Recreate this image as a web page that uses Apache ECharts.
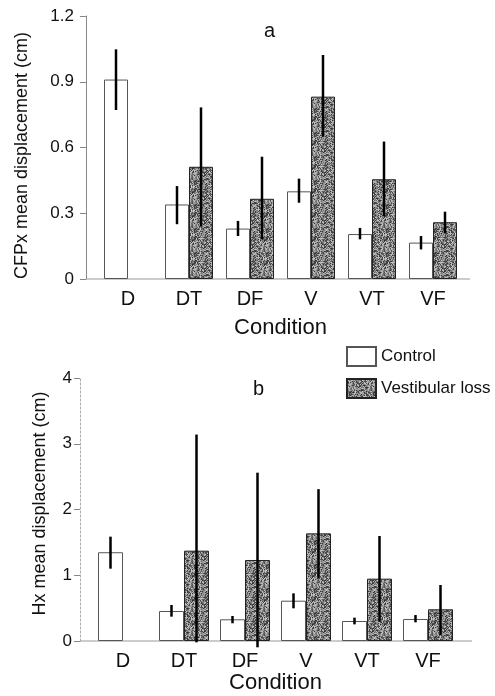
<!DOCTYPE html>
<html>
<head>
<meta charset="utf-8">
<script src="https://cdn.jsdelivr.net/npm/echarts@6/dist/echarts.min.js"></script>
<style>html,body{margin:0;padding:0;background:#fff}#c{width:495px;height:696px}</style>
</head>
<body>
<div id="c"></div>
<script>
// ---- data ----
const categories = ['D', 'DT', 'DF', 'V', 'VT', 'VF'];
const seriesNames = ['Control', 'Vestibular loss'];

// panel a: CFPx mean displacement (cm)
const aTicks = [0, 0.3, 0.6, 0.9, 1.2];
const aControl   = [0.91, 0.34, 0.23, 0.40, 0.205, 0.166];
const aControlHi = [1.048, 0.424, 0.265, 0.458, 0.233, 0.196];
const aControlLo = [0.771, 0.25, 0.196, 0.348, 0.181, 0.135];
const aVest      = [null, 0.512, 0.366, 0.832, 0.455, 0.259];
const aVestHi    = [null, 0.783, 0.558, 1.022, 0.627, 0.307];
const aVestLo    = [null, 0.239, 0.181, 0.649, 0.287, 0.208];

// panel b: Hx mean displacement (cm)
const bTicks = [0, 1, 2, 3, 4];
const bControl   = [1.35, 0.456, 0.33, 0.613, 0.304, 0.335];
const bControlHi = [1.587, 0.548, 0.38, 0.725, 0.355, 0.395];
const bControlLo = [1.10, 0.37, 0.27, 0.497, 0.253, 0.284];
const bVest      = [null, 1.374, 1.232, 1.637, 0.948, 0.482];
const bVestHi    = [null, 3.14, 2.56, 2.31, 1.597, 0.852];
const bVestLo    = [null, -0.02, -0.096, 0.953, 0.294, 0.091];

// ---- style helpers ----
const FONT = '"Liberation Sans", Arial, Helvetica, sans-serif';
function makeTexture() {
  const n = 24;
  const cv = document.createElement('canvas');
  cv.width = n; cv.height = n;
  const ctx = cv.getContext('2d');
  for (let y = 0; y < n; y++) {
    for (let x = 0; x < n; x++) {
      let h = (x * 374761393 + y * 668265263) >>> 0;
      h = ((h ^ (h >>> 13)) * 1274126177) >>> 0;
      h = (h ^ (h >>> 16)) >>> 0;
      const g = 45 + (h % 160);
      ctx.fillStyle = 'rgb(' + g + ',' + g + ',' + g + ')';
      ctx.fillRect(x, y, 1, 1);
    }
  }
  return cv;
}
const texture = { image: makeTexture(), repeat: 'repeat' };

function errData(hi, lo) {
  const out = [];
  hi.forEach((v, i) => { if (v != null) out.push([i, hi[i], lo[i]]); });
  return out;
}
function errRender(sign, barW) {
  return function (params, api) {
    const x = api.coord([api.value(0), 0])[0] + sign * barW / 2;
    const y1 = api.coord([api.value(0), api.value(1)])[1];
    const y2 = api.coord([api.value(0), api.value(2)])[1];
    return { type: 'line', shape: { x1: x, y1: y1, x2: x, y2: y2 },
             style: { stroke: '#000', lineWidth: 2.5 } };
  };
}

const grids = [
  { left: 97.5, right: 31.5, top: 16, bottom: 417 },
  { left: 92.5, right: 36.5, top: 378, bottom: 55 }
];
const axisX = [86, 80];      // y-axis line positions
const axisEnd = [470, 472];  // x-axis line right ends

function xAxisFor(i, gap) {
  return {
    type: 'category', gridIndex: i, data: categories,
    axisLine: { show: false }, axisTick: { show: false },
    axisLabel: { color: '#111', fontSize: 20, fontFamily: FONT, margin: 10 },
    name: 'Condition', nameLocation: 'middle', nameGap: gap,
    nameTextStyle: { color: '#111', fontSize: 22, fontFamily: FONT }
  };
}
function yAxisFor(i, ticks, name, gap, dashed, labelMargin, namePad) {
  const interval = ticks[1] - ticks[0];
  return {
    type: 'value', gridIndex: i, min: ticks[0], max: ticks[ticks.length - 1], interval: interval,
    offset: grids[i].left - axisX[i],
    axisLine: { show: true, lineStyle: { color: dashed ? '#aaa' : '#888', width: 1, type: dashed ? [2, 2] : 'solid' } },
    axisTick: { show: true, length: 6, lineStyle: { color: '#888' } },
    splitLine: { show: false },
    axisLabel: { color: '#111', fontSize: 17, fontFamily: FONT, margin: labelMargin,
                 formatter: v => String(+v.toFixed(2)) },
    name: name, nameLocation: 'middle', nameGap: gap, nameRotate: 90,
    nameTextStyle: { color: '#111', fontSize: 18, fontFamily: FONT, padding: namePad }
  };
}

const BW = [24, 25];
function panelSeries(i, ctrl, ctrlHi, ctrlLo, vest, vestHi, vestLo) {
  return [
    { name: seriesNames[0], type: 'bar', xAxisIndex: i, yAxisIndex: i, data: ctrl,
      barWidth: BW[i], barGap: '0%', silent: true,
      itemStyle: { color: '#fff', borderColor: '#555', borderWidth: 1 } },
    { name: seriesNames[1], type: 'bar', xAxisIndex: i, yAxisIndex: i, data: vest,
      barWidth: BW[i], barGap: '0%', silent: true,
      itemStyle: { color: texture, borderColor: '#222', borderWidth: 1 } },
    { name: 'err-c-' + i, type: 'custom', xAxisIndex: i, yAxisIndex: i, clip: false, silent: true,
      data: errData(ctrlHi, ctrlLo), renderItem: errRender(-1, BW[i]), z: 5 },
    { name: 'err-v-' + i, type: 'custom', xAxisIndex: i, yAxisIndex: i, clip: false, silent: true,
      data: errData(vestHi, vestLo), renderItem: errRender(1, BW[i]), z: 5 }
  ];
}

const chart = echarts.init(document.getElementById('c'), null, { renderer: 'canvas' });
chart.setOption({
  animation: false,
  backgroundColor: '#fff',
  textStyle: { fontFamily: FONT },
  grid: grids,
  title: [
    { text: 'a', left: 259, top: 16, textStyle: { fontSize: 20, fontWeight: 'normal', color: '#111', fontFamily: FONT } },
    { text: 'b', left: 248, top: 374, textStyle: { fontSize: 20, fontWeight: 'normal', color: '#111', fontFamily: FONT } }
  ],
  legend: {
    data: seriesNames, orient: 'vertical', left: 346, top: 346,
    itemWidth: 29, itemHeight: 19, itemGap: 11, icon: 'rect', padding: 0,
    textStyle: { fontSize: 17, color: '#111', fontFamily: FONT }
  },
  xAxis: [xAxisFor(0, 38), xAxisFor(1, 30)],
  yAxis: [
    yAxisFor(0, aTicks, 'CFPx mean displacement (cm)', 55, false, 12, [0, 16, 0, 0]),
    yAxisFor(1, bTicks, 'Hx mean displacement (cm)', 31, true, 8, [0, 0, 0, 12])
  ],
  series: [].concat(
    panelSeries(0, aControl, aControlHi, aControlLo, aVest, aVestHi, aVestLo),
    panelSeries(1, bControl, bControlHi, bControlLo, bVest, bVestHi, bVestLo)
  )
});

// baseline (x-axis line) spanning from the y-axis to the right end
const baselines = [0, 1].map(i => {
  const y0 = chart.convertToPixel({ xAxisIndex: i, yAxisIndex: i }, [0, 0])[1];
  return { type: 'line', z: 1, silent: true,
           shape: { x1: axisX[i], y1: y0, x2: axisEnd[i], y2: y0 },
           style: { stroke: '#999', lineWidth: 1 } };
});
chart.setOption({ graphic: baselines });
</script>
</body>
</html>
